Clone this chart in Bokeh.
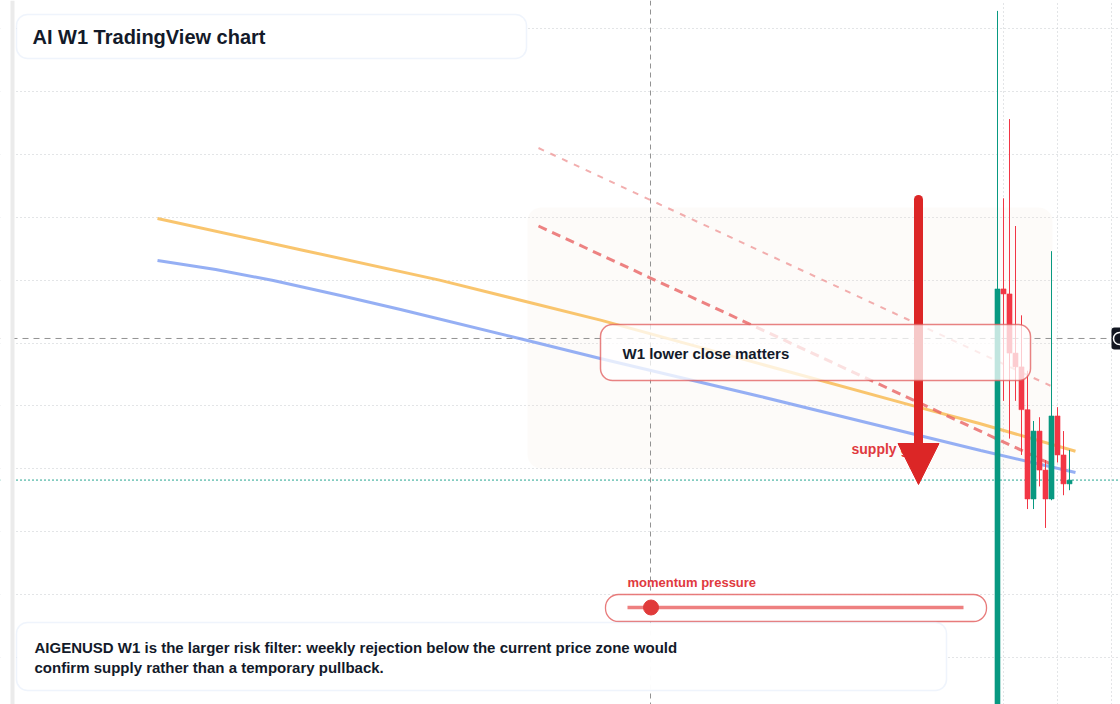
from bokeh.plotting import figure
from bokeh.models import BoxAnnotation, Span, Label, Arrow, NormalHead, FixedTicker
from bokeh.embed import file_html
from bokeh.resources import INLINE

# ---------------- data (weekly candles) ----------------
candle_idx = list(range(13))
opens  = [0.230, 0.593, 0.589, 0.542, 0.531, 0.497, 0.426, 0.480, 0.449, 0.426, 0.492, 0.461, 0.438]
highs  = [0.814, 0.665, 0.728, 0.643, 0.572, 0.528, 0.488, 0.491, 0.457, 0.623, 0.499, 0.480, 0.465]
lows   = [0.218, 0.504, 0.474, 0.504, 0.461, 0.418, 0.418, 0.436, 0.403, 0.425, 0.455, 0.429, 0.433]
closes = [0.593, 0.589, 0.542, 0.531, 0.497, 0.426, 0.480, 0.449, 0.426, 0.492, 0.461, 0.438, 0.441]

# moving averages
ma_orange_x = [-140, -116, -93, -66, -40, -14, -3, 13]
ma_orange   = [0.649, 0.624, 0.600, 0.568, 0.534, 0.500, 0.486, 0.464]
ma_blue_x   = [-140, -130.3, -120.7, -109.5, -99.5, -79, -66.2, -39.5, -13.7, -2.8, 13]
ma_blue     = [0.6156, 0.6084, 0.5997, 0.5878, 0.5766, 0.5528, 0.5377, 0.5075, 0.4773, 0.4645, 0.4471]

# trend lines
trend_x     = [-76.5, 8.83]
trend_main  = [0.643, 0.454]
trend_upper = [0.705, 0.516]

# price grid and weekly ticks
grid_prices = [0.30, 0.35, 0.40, 0.45, 0.50, 0.55, 0.60, 0.65, 0.70, 0.75, 0.80]
week_ticks = [1, 10, 19]
crosshair_price = 0.5536

momentum = 0.07  # position of the momentum pressure marker (0..1)

title_text = "AI W1 TradingView chart"
callout_text = "W1 lower close matters"
zone_text = "supply gate"
momentum_text = "momentum pressure"
note_lines = [
    "AIGENUSD W1 is the larger risk filter: weekly rejection below the current price zone would",
    "confirm supply rather than a temporary pullback.",
]

# ---------------- layout helpers ----------------
W, H = 1120, 704
X_LO, X_HI = -166.1667, 20.5
Y_LO, Y_HI = 0.26264, 0.82226


def sx(px):
    return X_LO + px / W * (X_HI - X_LO)


def sy(py):
    return Y_HI - py / H * (Y_HI - Y_LO)


UP = "#089981"
DOWN = "#f23645"
RED = "#dc2626"
TXT = "#131a2a"
FONT = "Liberation Sans"
BOX_BORDER = "#c9dbf5"

p = figure(width=W, height=H, x_range=(X_LO, X_HI), y_range=(Y_LO, Y_HI),
           x_axis_location=None, y_axis_location=None, min_border=0,
           toolbar_location=None, output_backend="svg")
p.outline_line_color = None
p.background_fill_color = "white"
p.border_fill_color = "white"

p.xgrid.ticker = FixedTicker(ticks=week_ticks)
p.ygrid.ticker = FixedTicker(ticks=grid_prices)
for g in (p.xgrid, p.ygrid):
    g.grid_line_color = "#c6cacf"
    g.grid_line_dash = "1 3"
    g.grid_line_width = 1

# supply zone shading
zone = BoxAnnotation(left=sx(527), right=sx(1052), top=sy(207), bottom=sy(468),
                     fill_color="#f3e3d3", fill_alpha=0.14, line_color=None,
                     border_radius=14, level="underlay")
p.add_layout(zone)

# crosshair + last price line
p.add_layout(Span(location=sx(650), dimension="height", line_color="#929292",
                  line_dash="5 4", line_width=1, level="underlay"))
p.add_layout(Span(location=crosshair_price, dimension="width", line_color="#929292",
                  line_dash="6 5", line_width=1, level="underlay"))
p.add_layout(Span(location=closes[-1], dimension="width", line_color=UP,
                  line_dash="1 3", line_width=1.6, level="underlay"))

# moving averages
p.line(ma_orange_x, ma_orange, line_color="#f8bf5e", line_alpha=0.9, line_width=3)
p.line(ma_blue_x, ma_blue, line_color="#8aa6f3", line_alpha=0.9, line_width=3)

# trend lines
p.line(trend_x, trend_upper, line_color="#ef9a9a", line_alpha=0.8, line_width=2, line_dash="6 7")
p.line(trend_x, trend_main, line_color="#e86464", line_alpha=0.8, line_width=3, line_dash="9 6")

# candles
colors = [UP if c >= o else DOWN for o, c in zip(opens, closes)]
tops = [max(o, c) for o, c in zip(opens, closes)]
bots = [min(o, c) for o, c in zip(opens, closes)]
p.segment(x0=candle_idx, y0=lows, x1=candle_idx, y1=highs, line_color=colors, line_width=1)
p.vbar(x=candle_idx, width=0.85, top=tops, bottom=bots, fill_color=colors, line_color=colors, line_width=0.5)

# arrow shaft (round top)
p.segment(x0=[sx(918)], y0=[sy(199)], x1=[sx(918)], y1=[sy(452)],
          line_color=RED, line_width=9, line_cap="round")

# supply gate label (under the arrow head)
p.add_layout(Label(x=sx(851), y=sy(448), text=zone_text, text_font=FONT, text_font_style="bold",
                   text_font_size="14px", text_color="#e0393e", text_baseline="middle"))

# arrow head
p.add_layout(Arrow(end=NormalHead(size=41, fill_color=RED, line_color=RED, line_width=1),
                   x_start=sx(918), y_start=sy(446), x_end=sx(918), y_end=sy(484),
                   line_color=RED, line_width=9, line_cap="butt"))

# callout box
p.add_layout(BoxAnnotation(left=sx(600), right=sx(1030), top=sy(324), bottom=sy(380),
                           fill_color="white", fill_alpha=0.75, line_color="#e05a5a",
                           line_alpha=0.75, line_width=1.5, border_radius=12))

# title box
p.add_layout(BoxAnnotation(left=sx(16), right=sx(526), top=sy(14), bottom=sy(58),
                           fill_color="white", fill_alpha=1.0, line_color=BOX_BORDER,
                           line_width=1.5, border_radius=11))

# momentum pill
p.add_layout(BoxAnnotation(left=sx(605), right=sx(986), top=sy(594), bottom=sy(621),
                           fill_color="white", fill_alpha=1.0, line_color="#e46464",
                           line_alpha=0.85, line_width=1.3, border_radius=13))

# bottom note box
p.add_layout(BoxAnnotation(left=sx(16), right=sx(946), top=sy(622), bottom=sy(690),
                           fill_color="white", fill_alpha=0.97, line_color=BOX_BORDER,
                           line_width=1.5, border_radius=11))

# price label at right edge
p.add_layout(BoxAnnotation(left=sx(1111), right=sx(1128), top=sy(327), bottom=sy(349),
                           fill_color="#131722", fill_alpha=1.0, line_color=None,
                           border_radius=3))

# left strip
p.add_layout(BoxAnnotation(left=sx(0), right=sx(10), top=Y_HI, bottom=Y_LO,
                           fill_color="white", fill_alpha=1.0, line_color=None, level="overlay"))
p.add_layout(BoxAnnotation(left=sx(10), right=sx(14), top=Y_HI, bottom=Y_LO,
                           fill_color="#ebebeb", fill_alpha=1.0, line_color=None, level="overlay"))

# momentum slider track and marker
track_l, track_r = sx(627), sx(963)
track_y = sy(607)
r1 = p.line([track_l, track_r], [track_y, track_y], line_color="#ee8080", line_width=3.5)
r1.level = "overlay"
r2 = p.scatter([track_l + momentum * (track_r - track_l)], [track_y], size=15,
               fill_color="#e03a3a", line_color="#e03a3a")
r2.level = "overlay"

r3 = p.scatter([sx(1119)], [crosshair_price], size=12, fill_color=None,
               line_color="white", line_width=1.5)
r3.level = "overlay"

# texts
p.add_layout(Label(x=sx(32), y=sy(36), text=title_text, text_font=FONT, text_font_style="bold",
                   text_font_size="20px", text_color=TXT, text_baseline="middle", level="overlay"))
p.add_layout(Label(x=sx(622), y=sy(353), text=callout_text, text_font=FONT, text_font_style="bold",
                   text_font_size="15px", text_color=TXT, text_baseline="middle", level="overlay"))
p.add_layout(Label(x=sx(627), y=sy(582), text=momentum_text, text_font=FONT, text_font_style="bold",
                   text_font_size="13px", text_color="#e0393e", text_baseline="middle", level="overlay"))
for i, line in enumerate(note_lines):
    p.add_layout(Label(x=sx(34), y=sy(647 + 20 * i), text=line, text_font=FONT,
                       text_font_style="bold", text_font_size="15px", text_color=TXT,
                       text_baseline="middle", level="overlay"))

open("out.html", "w").write(file_html(p, INLINE))
